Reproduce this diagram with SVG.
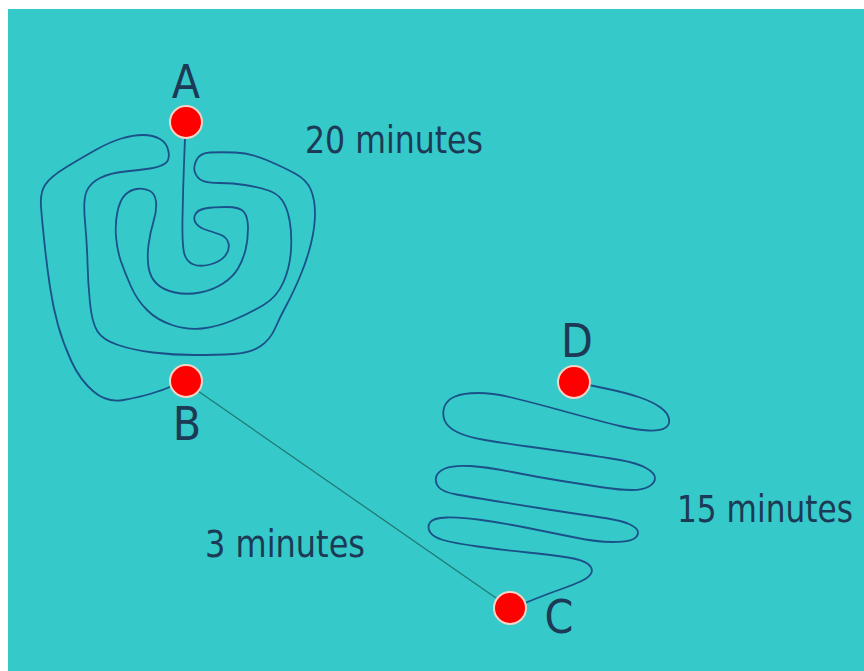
<svg xmlns="http://www.w3.org/2000/svg" width="864" height="671" viewBox="0 0 864 671">
<style>
.bg{fill:#36c9c9}
.route{fill:none;stroke:#1a5188;stroke-width:1.8;stroke-linecap:round;stroke-linejoin:round}
.direct{fill:none;stroke:#1f7a76;stroke-width:1.3}
.pt{fill:#ff0000;stroke:#f4d4c6;stroke-width:2}
.lbl{font-family:"DejaVu Sans Condensed","DejaVu Sans",sans-serif;font-size:46px;fill:#1c3a55;text-anchor:middle}
.tm{font-family:"DejaVu Sans Condensed","DejaVu Sans",sans-serif;font-size:37px;fill:#1c3a55}
</style>
<rect x="0" y="0" width="864" height="671" fill="#ffffff"/>
<rect class="bg" x="8" y="9" width="856" height="662"/>
<g id="connectors">
<path id="route-AB" class="route" d="M185,138 L184,164 Q183,190 182.5,218.5 Q182,247 184.5,254.5 Q187,262 193.5,264.5 Q200,267 210,264.5 Q220,262 225,256 Q230,250 228.5,243.5 Q227,237 220,234.5 Q213,232 206.5,230 Q200,228 196.5,224 Q193,220 195,215 Q197,210 205,208.5 Q213,207 226.5,207 Q240,207 244,212 Q248,217 248,228.5 Q248,240 245.5,250 Q243,260 238,268.5 Q233,277 223,283.5 Q213,290 200,292.5 Q187,295 175,292.5 Q163,290 156.5,283.5 Q150,277 148.5,267 Q147,257 148.5,245 Q150,233 153.5,221.5 Q157,210 156,201.5 Q155,193 149,190.5 Q143,188 136.5,189 Q130,190 125,195 Q120,200 117.5,211.5 Q115,223 116,236.5 Q117,250 121,261.5 Q125,273 131,286.5 Q137,300 147,310 Q157,320 172,325 Q187,330 202,328.5 Q217,327 233.5,320 Q250,313 263.5,305 Q277,297 283.5,282 Q290,267 291,250 Q292,233 289.5,220 Q287,207 282,200 Q277,193 267,190 Q257,187 245,185 Q233,183 220,183 Q207,183 202,180.5 Q197,178 195,172.5 Q193,167 196.5,160 Q200,153 210,152.5 Q220,152 235,152.5 Q250,153 266.5,160 Q283,167 295,173.5 Q307,180 311,190 Q315,200 315,213.5 Q315,227 311,243.5 Q307,260 300,276.5 Q293,293 286.5,305 Q280,317 275,328.5 Q270,340 260,346.5 Q250,353 233.5,354 Q217,355 195,355 Q173,355 153,352.5 Q133,350 118,345 Q103,340 97.5,331.5 Q92,323 90,303 Q88,283 87.5,263 Q87,243 85,221.5 Q83,200 86.5,191.5 Q90,183 100,178 Q110,173 125,171.5 Q140,170 150,168.5 Q160,167 165,163.5 Q170,160 168.5,151.5 Q167,143 160,139 Q153,135 143,135 Q133,135 121.5,138.5 Q110,142 96.5,149.5 Q83,157 66.5,167 Q50,177 45,185 Q40,193 41,206.5 Q42,220 44.5,243.5 Q47,267 50,287 Q53,307 58,325 Q63,343 71.5,361.5 Q80,380 93.5,391.5 Q107,403 123.5,400 Q140,397 151.5,393.5 Q163,390 167.5,388 L172,386"/>
<path id="route-BC" class="direct" d="M185,382 L509,607"/>
<path id="route-DC" class="route" d="M589,385 L608,389 Q627,393 640,397.5 Q653,402 660.5,407.5 Q668,413 669,419 Q670,425 665,428 Q660,431 648.5,430.5 Q637,430 622,426.5 Q607,423 587,417.5 Q567,412 548.5,407 Q530,402 511.5,397.5 Q493,393 478,393 Q463,393 455,396.5 Q447,400 444.5,406.5 Q442,413 444.5,420 Q447,427 457,432 Q467,437 485,440 Q503,443 528,446.5 Q553,450 578,453.5 Q603,457 620,460 Q637,463 646,468 Q655,473 655,478 Q655,483 649,486.5 Q643,490 631.5,490 Q620,490 603.5,487.5 Q587,485 562,481 Q537,477 512,472 Q487,467 470,466 Q453,465 445,468.5 Q437,472 436,477.5 Q435,483 439,487.5 Q443,492 456.5,494.5 Q470,497 495,501 Q520,505 545,509 Q570,513 595,516.5 Q620,520 629,524 Q638,528 638,532.5 Q638,537 632.5,539.5 Q627,542 612,542 Q597,542 575,537.5 Q553,533 528,528 Q503,523 481.5,520 Q460,517 446.5,517.5 Q433,518 430,522.5 Q427,527 430,532 Q433,537 443,540 Q453,543 478,546.5 Q503,550 528,552.5 Q553,555 568,557.5 Q583,560 588,564 Q593,568 591.5,572.5 Q590,577 581.5,581 Q573,585 561.5,589 Q550,593 537.5,598 L525,603"/>
<text class="tm" x="305" y="153" textLength="178" lengthAdjust="spacingAndGlyphs">20 minutes</text>
<text class="tm" x="205" y="557" textLength="160" lengthAdjust="spacingAndGlyphs">3 minutes</text>
<text class="tm" x="677" y="522" textLength="176" lengthAdjust="spacingAndGlyphs">15 minutes</text>
</g>
<g id="node-A">
<circle class="pt" cx="186" cy="122" r="16"/>
<text class="lbl" x="186" y="98">A</text>
</g>
<g id="node-B">
<circle class="pt" cx="186" cy="381" r="16"/>
<text class="lbl" x="187" y="440">B</text>
</g>
<g id="node-C">
<circle class="pt" cx="510" cy="608" r="16"/>
<text class="lbl" x="559" y="633">C</text>
</g>
<g id="node-D">
<circle class="pt" cx="574" cy="382" r="16"/>
<text class="lbl" x="577" y="357">D</text>
</g>
</svg>
